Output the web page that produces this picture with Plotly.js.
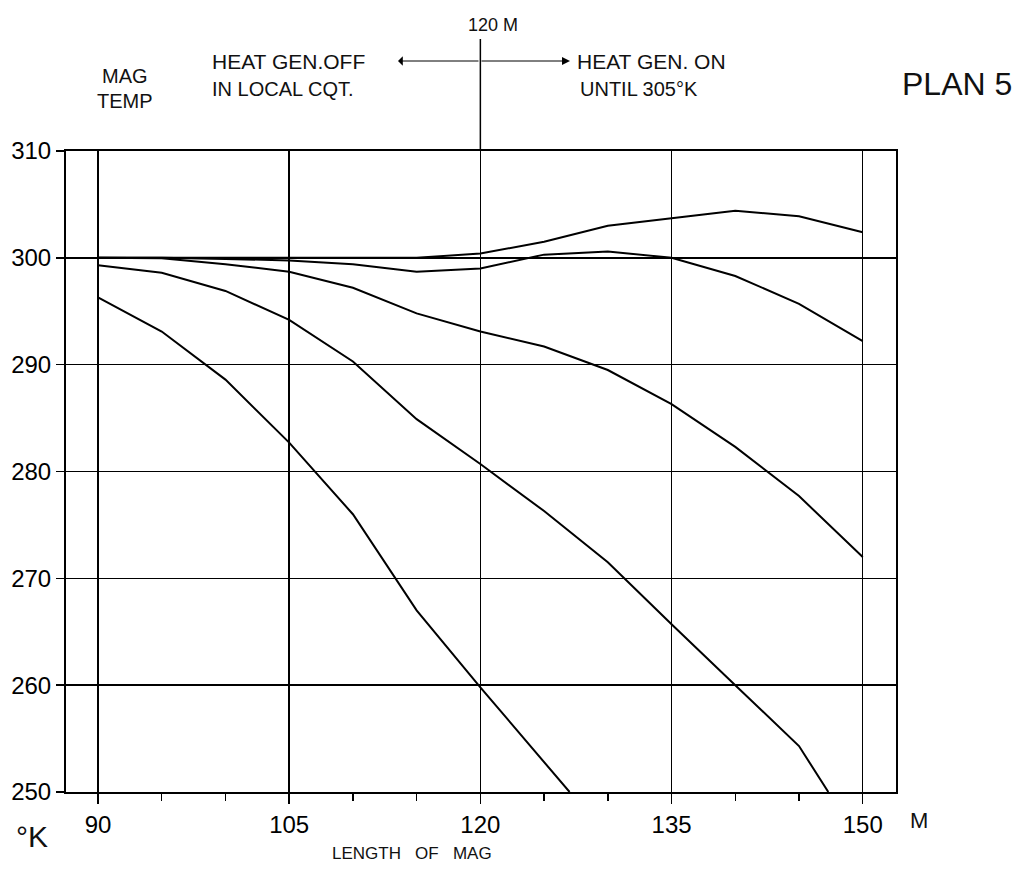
<!DOCTYPE html>
<html>
<head>
<meta charset="utf-8">
<script src="https://cdn.plot.ly/plotly-3.0.1.min.js"></script>
<style>html,body{margin:0;padding:0;background:#fff;}#chart{width:1015px;height:869px;}</style>
</head>
<body>
<div id="chart"></div>
<script>
// ---- data ----
const lengthABC = [90, 95, 100, 105, 110, 115, 120, 125, 130, 135, 140, 145, 150];
const curveA = [300, 300, 300, 300, 300, 300, 300.4, 301.5, 303.0, 303.7, 304.4, 303.9, 302.4];
const curveB = [300, 300, 299.9, 299.75, 299.4, 298.7, 299.0, 300.3, 300.6, 300.0, 298.3, 295.7, 292.2];
const curveC = [300, 299.95, 299.4, 298.7, 297.2, 294.8, 293.1, 291.7, 289.5, 286.3, 282.3, 277.7, 272.0];
const lengthD = [90, 95, 100, 105, 110, 115, 120, 125, 130, 135, 140, 145, 147.3];
const curveD = [299.3, 298.6, 296.9, 294.2, 290.3, 284.9, 280.7, 276.3, 271.5, 265.7, 260.0, 254.3, 250];
const lengthE = [90, 95, 100, 105, 110, 115, 120, 125, 127];
const curveE = [296.3, 293.1, 288.6, 282.7, 276.0, 267.0, 259.8, 252.8, 250];
const xTicks = [90, 105, 120, 135, 150];
const yTicks = [250, 260, 270, 280, 290, 300, 310];

// ---- layout helpers ----
const L = 66, R = 896, T = 151, B = 792;
const px = p => (p - L) / (R - L);
const py = p => (B - p) / (B - T);
const hand = {family: 'Liberation Sans, Arial, sans-serif', size: 20, color: '#111'};

const series = [[lengthABC, curveA], [lengthABC, curveB], [lengthABC, curveC], [lengthD, curveD], [lengthE, curveE]];
const traces = series.map(s => ({
  x: s[0], y: s[1], type: 'scatter', mode: 'lines',
  line: {color: '#000', width: 2}, hoverinfo: 'skip', showlegend: false
}));

function txt(text, xp, yp, opts) {
  return Object.assign({text: text, xref: 'paper', yref: 'paper', x: px(xp), y: py(yp),
    showarrow: false, font: hand, xanchor: 'left', yanchor: 'middle'}, opts || {});
}

const layout = {
  width: 1015, height: 869,
  margin: {l: L, r: 1015 - R, t: T, b: 869 - B, pad: 0},
  paper_bgcolor: '#fff', plot_bgcolor: '#fff',
  showlegend: false,
  xaxis: {
    range: [87.49, 152.61], tickvals: xTicks, ticktext: xTicks.map(String),
    showgrid: true, gridcolor: '#000', gridwidth: 1.5,
    showline: true, linecolor: '#000', linewidth: 2, mirror: true,
    ticks: 'outside', ticklen: 10, tickwidth: 1.5, tickcolor: '#000',
    minor: {dtick: 5, tick0: 90, ticks: 'outside', ticklen: 7, tickwidth: 1.5, tickcolor: '#000', showgrid: false},
    tickfont: {family: 'Liberation Sans, Arial, sans-serif', size: 24, color: '#000'},
    zeroline: false, fixedrange: true
  },
  yaxis: {
    range: [250, 310], tickvals: yTicks, ticktext: yTicks.map(String),
    showgrid: true, gridcolor: '#000', gridwidth: 1.5,
    showline: true, linecolor: '#000', linewidth: 2, mirror: true,
    ticks: 'outside', ticklen: 8, tickwidth: 1.5, tickcolor: '#000',
    tickfont: {family: 'Liberation Sans, Arial, sans-serif', size: 24, color: '#000'},
    zeroline: false, fixedrange: true
  },
  shapes: [
    {type: 'line', xref: 'x', yref: 'paper', x0: 120, x1: 120, y0: 1, y1: py(39),
     line: {color: '#000', width: 1.5}}
  ],
  annotations: [
    txt('120 M', 466, 25, {font: Object.assign({}, hand, {size: 18})}),
    txt('HEAT GEN.OFF', 210, 61, {font: Object.assign({}, hand, {size: 21})}),
    txt('IN LOCAL CQT.', 210, 89),
    txt('HEAT GEN. ON', 575, 61, {font: Object.assign({}, hand, {size: 21})}),
    txt('UNTIL 305°K', 578, 89),
    txt('MAG', 100, 76),
    txt('TEMP', 95, 101),
    txt('PLAN 5', 900, 84, {font: Object.assign({}, hand, {size: 32})}),
    txt('°K', 14, 836, {font: Object.assign({}, hand, {size: 30})}),
    txt('M', 908, 820, {font: Object.assign({}, hand, {size: 22})}),
    txt('LENGTH &nbsp; OF &nbsp; MAG', 330, 842, {yanchor: 'top', font: Object.assign({}, hand, {size: 17})}),
    // double-headed arrow around the 120 m line
    {xref: 'paper', yref: 'paper', x: px(398), y: py(61), ax: 82, ay: 0, text: '',
     showarrow: true, arrowhead: 1, arrowsize: 1.6, arrowwidth: 1, arrowcolor: '#000'},
    {xref: 'paper', yref: 'paper', x: px(570), y: py(61), ax: -90, ay: 0, text: '',
     showarrow: true, arrowhead: 2, arrowsize: 1.6, arrowwidth: 1, arrowcolor: '#000'}
  ]
};

Plotly.newPlot('chart', traces, layout, {staticPlot: true, displayModeBar: false});
</script>
</body>
</html>
